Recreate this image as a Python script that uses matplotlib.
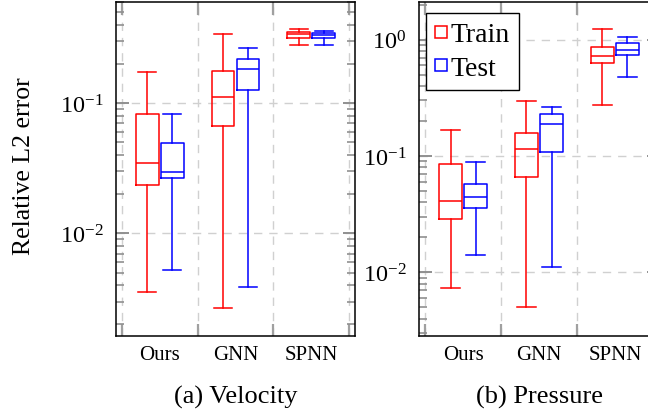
import matplotlib
matplotlib.use("Agg")
import matplotlib.pyplot as plt
from matplotlib.lines import Line2D
from matplotlib.ticker import LogLocator, NullFormatter, FixedLocator

plt.rcParams['font.family'] = ['Liberation Serif', 'DejaVu Serif']
plt.rcParams['mathtext.fontset'] = 'cm'

methods = ["Ours", "GNN", "SPNN"]
splits = ["Train", "Test"]
split_colors = ["red", "blue"]

# stats: [whislo, q1, median, q3, whishi]
vel_train = [
    [0.00354, 0.0234, 0.0345, 0.0823, 0.173],
    [0.00268, 0.0662, 0.111, 0.175, 0.341],
    [0.281, 0.318, 0.338, 0.352, 0.371],
]
vel_test = [
    [0.00523, 0.0264, 0.0297, 0.0495, 0.0828],
    [0.00386, 0.125, 0.184, 0.219, 0.266],
    [0.278, 0.317, 0.334, 0.348, 0.360],
]
pres_train = [
    [0.00733, 0.0285, 0.041, 0.0847, 0.168],
    [0.0050, 0.066, 0.115, 0.158, 0.297],
    [0.273, 0.63, 0.72, 0.87, 1.23],
]
pres_test = [
    [0.0142, 0.0357, 0.0444, 0.0574, 0.088],
    [0.0112, 0.108, 0.19, 0.23, 0.265],
    [0.473, 0.74, 0.81, 0.93, 1.06],
]
panel_titles = ["(a) Velocity", "(b) Pressure"]
ylims = [(0.00164, 0.60), (0.00285, 2.12)]

W, H = 648, 414
fig = plt.figure(figsize=(W / 100, H / 100), dpi=100)

ax_rects = [
    (116 / W, 1 - 336.7 / H, 239 / W, 334 / H),
    (419 / W, 1 - 336.7 / H, 240 / W, 334 / H),
]

grid_kw = dict(color='#d0d0d0', linestyle=(0, (6, 5)), linewidth=1.0)


def make_stats(rows):
    out = []
    for r in rows:
        out.append(dict(whislo=r[0], q1=r[1], med=r[2], q3=r[3], whishi=r[4], fliers=[]))
    return out


def draw_panel(ax, train, test, ylim, title):
    for k, (data, col) in enumerate(zip([train, test], split_colors)):
        off = -0.165 if k == 0 else 0.165
        pos = [i + 1 + off for i in range(len(methods))]
        lp = dict(color=col, linewidth=1.1)
        ax.bxp(make_stats(data), positions=pos, widths=0.30, capwidths=0.24,
               showfliers=False, boxprops=lp, whiskerprops=lp, capprops=lp,
               medianprops=lp, manage_ticks=False)
    ax.set_yscale('log')
    ax.set_ylim(*ylim)
    ax.set_xlim(0.42, 3.58)
    ax.xaxis.set_major_locator(FixedLocator([0.5, 1.5, 2.5, 3.5]))
    ax.xaxis.set_minor_locator(FixedLocator([1, 2, 3]))
    ax.set_xticklabels([], minor=False)
    ax.set_xticklabels(methods, minor=True, fontsize=15)
    ax.tick_params(axis='x', which='minor', length=0, pad=7)
    ax.tick_params(axis='x', which='major', direction='in', length=9, width=1.6,
                   color='#a0a0a0', top=True, bottom=True)
    ax.yaxis.set_major_locator(LogLocator(base=10, numticks=10))
    ax.yaxis.set_minor_locator(LogLocator(base=10, subs=range(2, 10), numticks=20))
    ax.yaxis.set_minor_formatter(NullFormatter())
    ax.tick_params(axis='y', which='major', direction='in', length=9, width=1.4,
                   color='#909090', left=True, right=True, labelsize=17.5, pad=9)
    ax.tick_params(axis='y', which='minor', direction='in', length=6, width=1.2,
                   color='#909090', left=True, right=True)
    ax.grid(True, which='major', axis='both', **grid_kw)
    ax.set_axisbelow(True)
    for s in ax.spines.values():
        s.set_linewidth(1.1)
        s.set_color('black')
    cx = ax.get_position().x0 + ax.get_position().width / 2
    fig.text(cx, 1 - 397 / H, title, ha='center', va='center', fontsize=19)


axes = []
for rect, tr, te, yl, t in zip(ax_rects, [vel_train, pres_train], [vel_test, pres_test],
                               ylims, panel_titles):
    ax = fig.add_axes(rect)
    draw_panel(ax, tr, te, yl, t)
    axes.append(ax)

fig.text(24 / W, 1 - 166 / H, "Relative L2 error", rotation=90, ha='center', va='center',
         fontsize=18.5)

handles = [Line2D([], [], linestyle='none', marker='s', markersize=8.5,
                  markerfacecolor='white', markeredgecolor=c, markeredgewidth=1.1)
           for c in split_colors]
leg = axes[1].legend(handles, splits, loc='upper left', bbox_to_anchor=(0.029, 0.966),
                     borderaxespad=0, fontsize=20, frameon=True, fancybox=False,
                     edgecolor='black', framealpha=1, handlelength=0.42,
                     handletextpad=0.16, borderpad=0.32, labelspacing=0.3)
leg.get_frame().set_linewidth(1.0)

fig.savefig("out.png", dpi=100)
